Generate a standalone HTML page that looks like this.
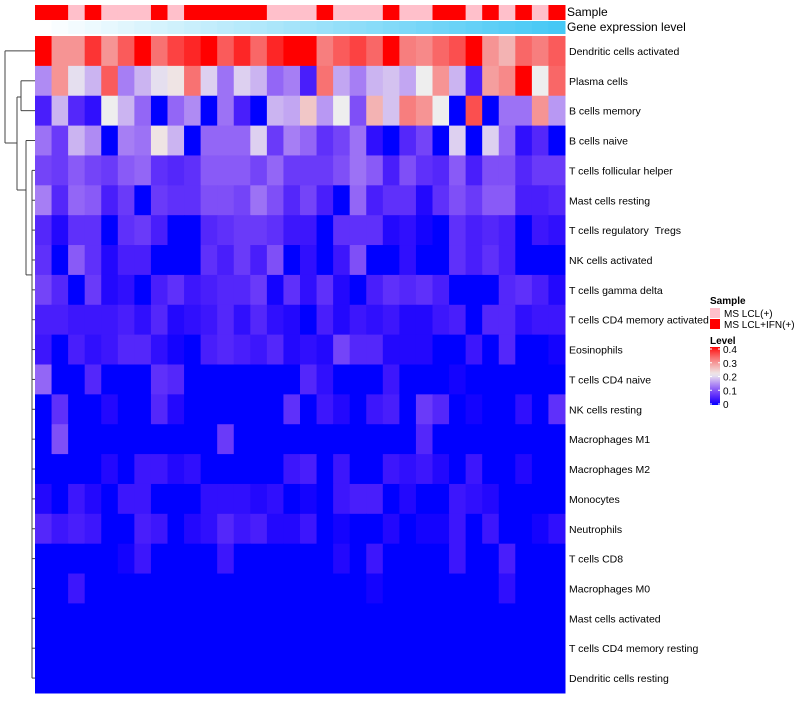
<!DOCTYPE html>
<html><head><meta charset="utf-8">
<style>
html,body{margin:0;padding:0;background:#fff;}
body{width:800px;height:700px;overflow:hidden;font-family:"Liberation Sans",sans-serif;}
text{white-space:pre;}
</style></head>
<body>
<svg id="chart" width="800" height="700" xmlns="http://www.w3.org/2000/svg" font-family="Liberation Sans, sans-serif"></svg>
<script>
const rowLabels=["Dendritic cells activated","Plasma cells","B cells memory","B cells naive","T cells follicular helper","Mast cells resting","T cells regulatory\u00a0\u00a0Tregs","NK cells activated","T cells gamma delta","T cells CD4 memory activated","Eosinophils","T cells CD4 naive","NK cells resting","Macrophages M1","Macrophages M2","Monocytes","Neutrophils","T cells CD8","Macrophages M0","Mast cells activated","T cells CD4 memory resting","Dendritic cells resting"];
const sampleGroups=[1,1,0,1,0,0,0,1,0,1,1,1,1,1,0,0,0,1,0,0,0,1,0,0,1,1,0,1,0,1,0,1];
const z=new Array(32).fill(0);
const values=[
[0.42,0.31,0.31,0.39,0.31,0.36,0.42,0.34,0.38,0.40,0.42,0.36,0.40,0.35,0.40,0.42,0.42,0.33,0.36,0.38,0.35,0.42,0.33,0.32,0.35,0.37,0.42,0.31,0.28,0.35,0.33,0.36],
[0.15,0.31,0.21,0.18,0.36,0.14,0.18,0.21,0.23,0.34,0.20,0.13,0.20,0.18,0.12,0.14,0.05,0.34,0.17,0.14,0.18,0.19,0.17,0.22,0.31,0.18,0.05,0.30,0.32,0.42,0.22,0.35],
[0.05,0.18,0.06,0.03,0.22,0.18,0.12,0,0.12,0.15,0,0.13,0.05,0,0.18,0.17,0.26,0.16,0.22,0.10,0.28,0.19,0.33,0.31,0.22,0,0.37,0,0.13,0.13,0.31,0.16],
[0.13,0.08,0.18,0.15,0,0.14,0.13,0.23,0.18,0,0.12,0.12,0.12,0.20,0.08,0.14,0.12,0.07,0.09,0.13,0.03,0,0.06,0.09,0,0.20,0,0.20,0.12,0.03,0.06,0],
[0.09,0.08,0.11,0.09,0.08,0.11,0.12,0.07,0.06,0.07,0.11,0.11,0.11,0.09,0.12,0.08,0.08,0.08,0.10,0.13,0.11,0.05,0.10,0.07,0.06,0.11,0.05,0.10,0.10,0.06,0.08,0.08],
[0.14,0.06,0.12,0.11,0.05,0.08,0,0.08,0.07,0.07,0.10,0.10,0.09,0.13,0.10,0.06,0.09,0.05,0,0.12,0.05,0.07,0.07,0.02,0.07,0.10,0.08,0.11,0.11,0.05,0.05,0.06],
[0.06,0.02,0.07,0.07,0,0.07,0.08,0.05,0,0,0.06,0.07,0.08,0.08,0.07,0.04,0.04,0,0.07,0.07,0.07,0.02,0.03,0.01,0,0.07,0.05,0.06,0.05,0,0.04,0.03],
[0.07,0,0.11,0.07,0.02,0.05,0.05,0,0,0,0.07,0.05,0.08,0.05,0.10,0,0.03,0,0.04,0.10,0,0,0.03,0,0,0.07,0.05,0.07,0.05,0,0,0],
[0.09,0.06,0,0.08,0.02,0.03,0,0.05,0.07,0.04,0.05,0.06,0.06,0.08,0.01,0.07,0.03,0.07,0.02,0,0.05,0.07,0.06,0.07,0.05,0,0,0,0.06,0.07,0.05,0.02],
[0.05,0.05,0.04,0.04,0.04,0.05,0.03,0.06,0.02,0.03,0.04,0.06,0.03,0.06,0.03,0.02,0,0.05,0.02,0.04,0.03,0.04,0.02,0.02,0.04,0.05,0,0.06,0.06,0.03,0.04,0.04],
[0.04,0,0.05,0.03,0.04,0.06,0.06,0.03,0.01,0,0.05,0.06,0.05,0.04,0.06,0.02,0.03,0.02,0.09,0.06,0.06,0.02,0.02,0.02,0,0,0.04,0,0.06,0,0,0.01],
[0.12,0,0,0.06,0,0,0,0.07,0.06,0,0,0,0,0,0,0,0.06,0.03,0,0,0,0.04,0,0,0,0.01,0,0,0,0,0,0],
[0,0.07,0,0,0.02,0,0,0.06,0.02,0,0,0,0,0,0,0.07,0,0.04,0.02,0,0.04,0.05,0,0.08,0.06,0,0.01,0,0,0.03,0,0.07],
[0,0.10,0,0,0,0,0,0,0,0,0,0.08,0,0,0,0,0,0,0,0,0,0,0,0.06,0,0,0,0,0,0,0,0],
[0,0,0,0,0.02,0,0.04,0.04,0.02,0.03,0,0,0,0,0,0.04,0.05,0,0.04,0,0,0.04,0.03,0.04,0.02,0,0.04,0,0,0.02,0,0],
[0.02,0,0.04,0.02,0,0.04,0.04,0,0,0,0.03,0.03,0.03,0.02,0.03,0,0.01,0,0.04,0.05,0.05,0,0.02,0,0,0.04,0.03,0.02,0,0,0,0],
[0.06,0.04,0.05,0.04,0,0,0.05,0.04,0,0.02,0.03,0.06,0.04,0.05,0.02,0.02,0.04,0,0.01,0,0,0.02,0,0.01,0.01,0.04,0,0.04,0,0,0.01,0.03],
[0,0,0,0,0,0.01,0.04,0,0,0,0,0.04,0,0,0,0,0,0,0.02,0,0.04,0,0,0,0,0.04,0,0,0.05,0,0,0],
[0,0,0.04,0,0,0,0,0,0,0,0,0,0,0,0,0,0,0,0,0,0.01,0,0,0,0,0,0,0,0.03,0,0,0],
z.slice(),z.slice(),z.slice()
];
const legendTicks=[0,0.1,0.2,0.3,0.4];

const NS="http://www.w3.org/2000/svg";
const svg=document.getElementById('chart');
function mk(tag,attrs,parent){const e=document.createElementNS(NS,tag);for(const k in attrs)e.setAttribute(k,attrs[k]);(parent||svg).appendChild(e);return e;}
const X0=35,X1=565,Y0=36,Y1=693;
const nCol=values[0].length,nRow=rowLabels.length;
const cw=(X1-X0)/nCol,rh=(Y1-Y0)/nRow;
const xPos=j=>X0+j*cw, yPos=i=>Y0+i*rh;
function color(v){
  const mid=0.22;
  let r,g,b;
  if(v<=mid){const t=Math.max(0,v/mid);r=238*Math.pow(t,0.8);g=238*Math.pow(t,1.4);b=255-17*t;}
  else{const s=Math.min(1,(v-mid)/(0.42-mid));r=238+17*s;g=238*Math.pow(1-s,0.8);b=g;}
  return `rgb(${Math.round(r)},${Math.round(g)},${Math.round(b)})`;
}
for(let j=0;j<nCol;j++){
  const c=mk('rect',{x:xPos(j),y:5,width:cw+0.5,height:15,fill:sampleGroups[j]?'#FF0000':'#FFC0CB'});
  
  
  const t=j/(nCol-1);
  const g=mk('rect',{x:xPos(j),y:21,width:cw+0.5,height:13,fill:`rgb(${Math.round(255-185*t)},${Math.round(255-55*t)},${Math.round(255-10*t)})`});
  
  
}
const st=mk('text',{x:567,y:16,'font-size':12,fill:'#000'});st.textContent='Sample';

const gt=mk('text',{x:567,y:31,'font-size':12,fill:'#000'});gt.textContent='Gene expression level';

for(let i=0;i<nRow;i++){
  for(let j=0;j<nCol;j++){
    const c=mk('rect',{x:xPos(j),y:yPos(i),width:cw+0.5,height:rh+0.5,fill:color(values[i][j])});
    
    
  }
  const t=mk('text',{x:569,y:yPos(i)+rh/2+4,'font-size':10.5,fill:'#000'});
  t.textContent=rowLabels[i];
  
  
}
const dg=mk('g',{stroke:'#444','stroke-width':1,fill:'none'});

const yc=i=>yPos(i)+rh/2;
function L(x1,y1,x2,y2){mk('line',{x1,y1,x2,y2},dg);}
const lowTop=yc(4),lowBot=yc(nRow-1),lowMid=(yc(4)+yc(11))/2;
L(5,yc(0),5,143);L(5,yc(0),35,yc(0));L(5,143,17,143);
L(17,97,17,190);L(17,97,21,97);L(21,yc(1),21,yc(2));L(21,yc(1),35,yc(1));L(21,yc(2),35,yc(2));
L(17,190,26,190);L(26,yc(3),26,lowMid);L(26,yc(3),35,yc(3));L(26,lowMid,32,lowMid);
L(32,lowTop,32,lowBot);
for(let i=4;i<nRow;i++)L(32,yc(i),35,yc(i));
function txt(x,y,s,size,w,name){const t=mk('text',{x,y,'font-size':size,'font-weight':w||'normal',fill:'#000'});t.textContent=s;return t;}
txt(710,304,'Sample',10,'bold','sample-legend-title');
const l1=mk('rect',{x:710,y:308,width:10,height:10,fill:'#FFC0CB'});
txt(724,317,'MS LCL(+)',10,'normal','legend-label-ms-lcl');
const l2=mk('rect',{x:710,y:319,width:10,height:10,fill:'#FF0000'});
txt(724,328,'MS LCL+IFN(+)',10,'normal','legend-label-ms-lcl-ifn');
txt(710,344,'Level',10,'bold','level-legend-title');
const defs=mk('defs',{});
const lg=mk('linearGradient',{id:'lvl',x1:0,y1:1,x2:0,y2:0},defs);
for(let k=0;k<=20;k++){const v=0.42*k/20;mk('stop',{offset:k/20,'stop-color':color(v)},lg);}
const cb=mk('rect',{x:710,y:347,width:10,height:58,fill:'url(#lvl)'});

const cbY=v=>404-(v/0.4)*55;
legendTicks.forEach(v=>{
  mk('line',{x1:710,x2:712,y1:cbY(v),y2:cbY(v),stroke:'#fff'});
  mk('line',{x1:718,x2:720,y1:cbY(v),y2:cbY(v),stroke:'#fff'});
  txt(723,cbY(v)+4,String(v),10,'normal','level-tick-label');
});
</script>
</body></html>
